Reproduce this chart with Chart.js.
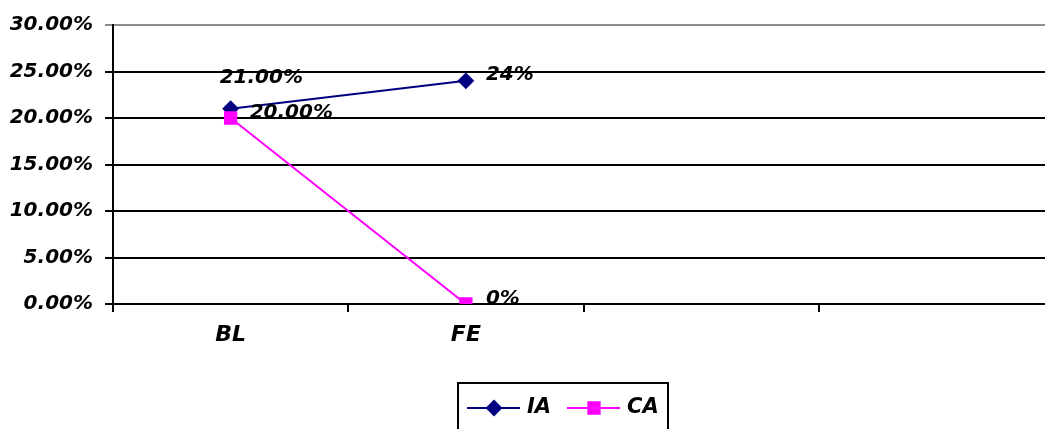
<!DOCTYPE html>
<html>
<head>
<meta charset="utf-8">
<script src="https://cdn.jsdelivr.net/npm/chart.js@4/dist/chart.umd.min.js"></script>
<style>
  html, body { margin: 0; padding: 0; background: #fff; overflow: hidden; }
  #wrap { position: absolute; left: 0; top: 0; width: 1064px; height: 429px; }
  #c { display: block; width: 1064px; height: 429px; }
</style>
</head>
<body>
<div id="wrap"><canvas id="c" width="1064" height="429"></canvas></div>
<script>
// Categories (the last two slots are left empty on the axis)
const categories = ['BL', 'FE', '', ''];
// Series values, in percent
const iaValues = [21, 24];
const caValues = [20, 0];
// Decimals shown in each point's value label
const iaDecimals = [2, 0];
const caDecimals = [2, 0];
// Y axis range and step, in percent
const yMin = 0, yMax = 30, yStep = 5;

const FONT = '"DejaVu Sans", "Liberation Sans", Arial, sans-serif';

// Draws the value next to each point
const valueLabels = {
  id: 'valueLabels',
  afterDatasetsDraw(chart, args, opts) {
    const ctx = chart.ctx;
    ctx.save();
    ctx.font = 'italic bold 20px ' + FONT;
    ctx.fillStyle = '#000';
    ctx.textAlign = 'left';
    ctx.textBaseline = 'middle';
    chart.data.datasets.forEach((ds, i) => {
      const meta = chart.getDatasetMeta(i);
      const offs = opts.offsets[i];
      meta.data.forEach((pt, j) => {
        const v = ds.data[j];
        if (v == null) return;
        const txt = v.toFixed(ds.labelDecimals[j]) + '%';
        ctx.fillText(txt, pt.x + offs[j][0], pt.y + offs[j][1]);
      });
    });
    ctx.restore();
  }
};

// Boxed legend with line + marker samples
const boxedLegend = {
  id: 'boxedLegend',
  afterDraw(chart, args, opts) {
    const ctx = chart.ctx;
    ctx.save();
    ctx.lineWidth = 2;
    ctx.strokeStyle = '#000';
    ctx.strokeRect(opts.left, opts.top, opts.width, 60);
    const cy = opts.top + 25;
    let x = opts.left + 9;
    ctx.font = 'italic bold 21px ' + FONT;
    ctx.textBaseline = 'middle';
    chart.data.datasets.forEach((ds) => {
      ctx.strokeStyle = ds.borderColor;
      ctx.lineWidth = 2;
      ctx.beginPath();
      ctx.moveTo(x, cy);
      ctx.lineTo(x + 53, cy);
      ctx.stroke();
      Chart.helpers.drawPoint(ctx, {
        pointStyle: ds.pointStyle,
        radius: ds.pointRadius,
        borderWidth: 1,
        rotation: 0
      }, x + 27, cy);
      ctx.fillStyle = ds.pointBackgroundColor;
      ctx.fill();
      ctx.fillStyle = '#000';
      ctx.fillText(ds.label, x + 60, cy);
      x += 100;
    });
    ctx.restore();
  }
};

const tickFont = { family: FONT, size: 20, weight: 'bold', style: 'italic' };

const chart = new Chart(document.getElementById('c'), {
  type: 'line',
  data: {
    labels: categories,
    datasets: [
      {
        label: 'IA',
        data: iaValues,
        labelDecimals: iaDecimals,
        borderColor: '#000080',
        backgroundColor: '#000080',
        pointBackgroundColor: '#000080',
        pointBorderColor: '#000080',
        pointStyle: 'rectRot',
        pointRadius: 7,
        borderWidth: 2,
        tension: 0,
        order: 1
      },
      {
        label: 'CA',
        data: caValues,
        labelDecimals: caDecimals,
        borderColor: '#FF00FF',
        backgroundColor: '#FF00FF',
        pointBackgroundColor: '#FF00FF',
        pointBorderColor: '#FF00FF',
        pointStyle: 'rect',
        pointRadius: 8,
        borderWidth: 2,
        tension: 0,
        order: 0
      }
    ]
  },
  options: {
    responsive: false,
    animation: false,
    devicePixelRatio: 1,
    layout: { padding: { top: 25, left: 0, right: 0, bottom: 0 } },
    plugins: {
      legend: { display: false },
      tooltip: { enabled: false },
      valueLabels: {
        offsets: [
          [[-11, -31], [20, -6]],
          [[19, -5], [20, -5]]
        ]
      },
      boxedLegend: { left: 458, top: 383, width: 210 }
    },
    scales: {
      x: {
        offset: true,
        grid: {
          offset: true,
          drawOnChartArea: false,
          drawTicks: true,
          tickLength: 8,
          color: '#000',
          lineWidth: 2
        },
        border: { display: true, color: '#000', width: 2 },
        ticks: {
          color: '#000',
          padding: 10,
          maxRotation: 0,
          autoSkip: false,
          font: { family: FONT, size: 22, weight: 'bold', style: 'italic' }
        },
        afterFit(scale) { scale.height = 125; }
      },
      y: {
        min: yMin,
        max: yMax,
        grid: {
          drawTicks: true,
          tickLength: 8,
          lineWidth: 2,
          color: (c) => (c.tick && c.tick.value === yMax ? '#8c8c8c' : '#000')
        },
        border: { display: true, color: '#000', width: 2 },
        ticks: {
          stepSize: yStep,
          color: '#000',
          padding: 12,
          font: tickFont,
          callback: (v) => v.toFixed(2) + '%'
        },
        afterFit(scale) { scale.width = 113; }
      }
    }
  },
  plugins: [valueLabels, boxedLegend]
});
</script>
</body>
</html>
